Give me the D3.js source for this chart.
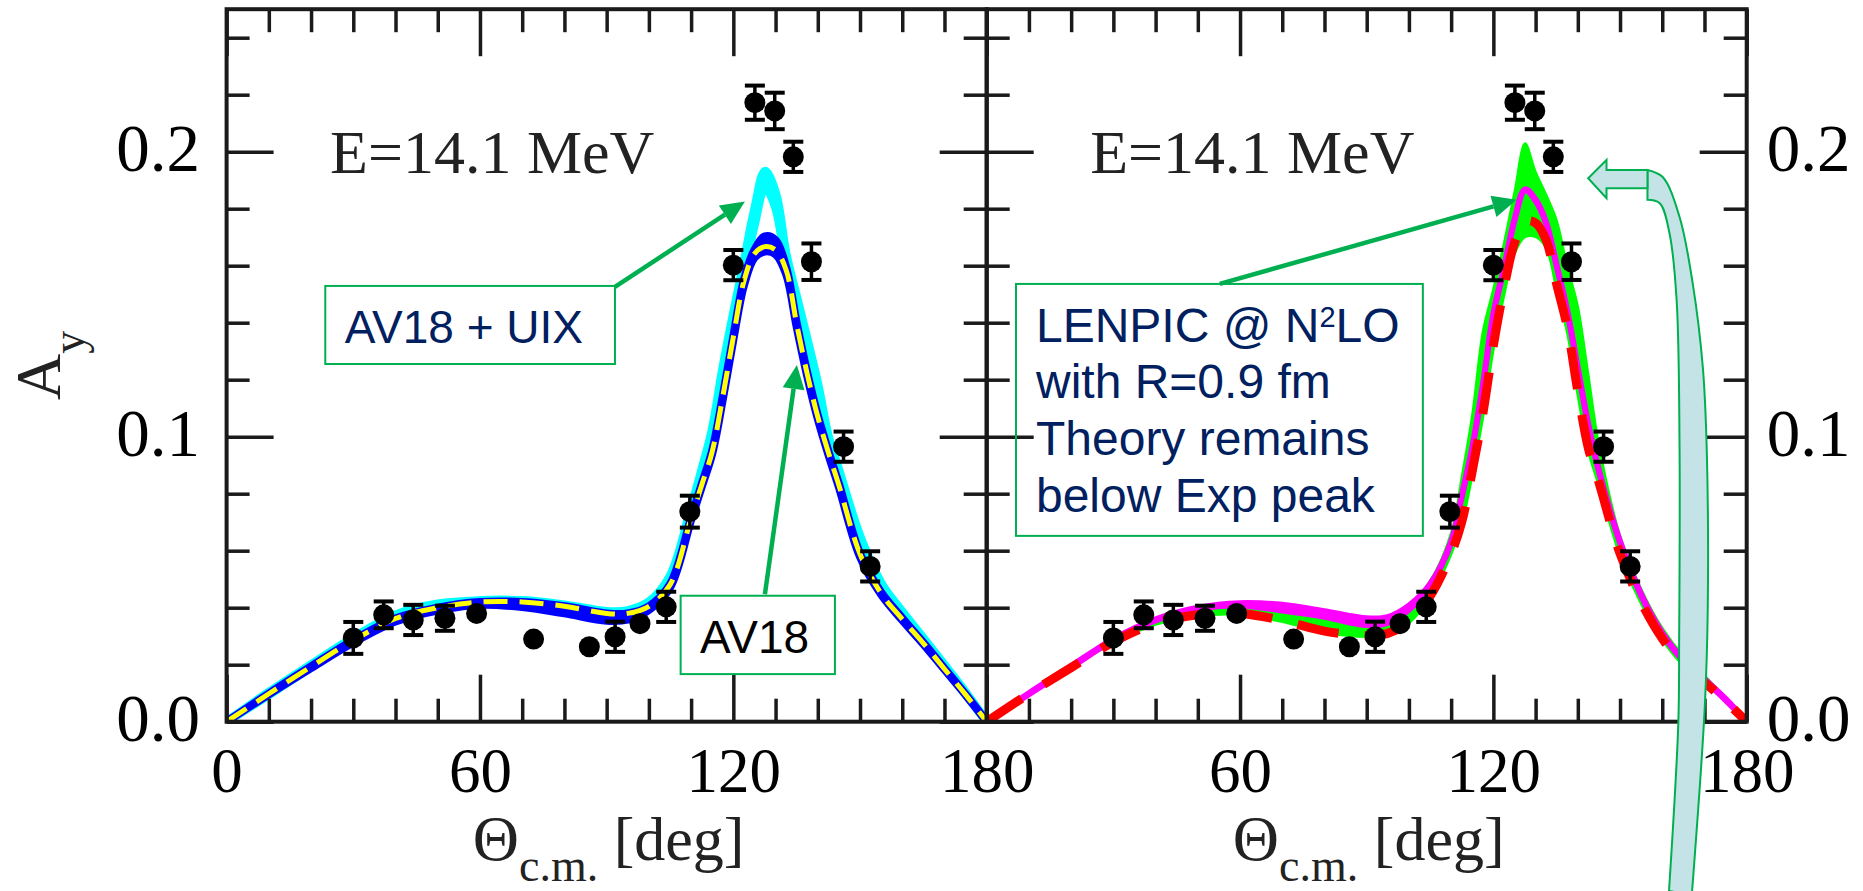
<!DOCTYPE html>
<html lang="en">
<head>
<meta charset="utf-8">
<title>A_y at E = 14.1 MeV</title>
<script src="https://cdn.jsdelivr.net/npm/d3@7/dist/d3.min.js"></script>
<style>
  html, body { margin: 0; padding: 0; background: #ffffff; }
  svg { display: block; }
  text { white-space: pre; }
</style>
</head>
<body>
<svg id="chart" width="1863" height="891"></svg>
<script>
// ---------- theory curves, sampled on a common c.m. angle grid (deg) ----------
const theta = [0, 10, 20, 30, 40, 50, 60, 70, 80, 90, 95, 100, 105, 110, 112.5, 115, 117.5,
  120, 122.5, 125, 127.5, 130, 132.5, 135, 137.5, 140, 142.5, 145, 150, 155, 160, 165, 170, 175, 180];

// AV18 + UIX band (cyan)
const av18uixLo = [0, 0.0095, 0.0192, 0.0286, 0.0365, 0.0403, 0.0415, 0.0415, 0.0400, 0.0377, 0.0380, 0.0410, 0.0490, 0.0730, 0.0858, 0.0995, 0.1200,
  0.1390, 0.1570, 0.1745, 0.1875, 0.1805, 0.1600, 0.1450, 0.1300, 0.1155, 0.0970, 0.0858, 0.0630, 0.0474, 0.0374, 0.0283, 0.0191, 0.0097, 0];
const av18uixHi = [0, 0.0103, 0.0200, 0.0294, 0.0375, 0.0413, 0.0425, 0.0425, 0.0410, 0.0387, 0.0390, 0.0420, 0.0510, 0.0750, 0.0882, 0.1025, 0.1240,
  0.1430, 0.1610, 0.1795, 0.1931, 0.1855, 0.1640, 0.1490, 0.1340, 0.1185, 0.1000, 0.0882, 0.0650, 0.0486, 0.0386, 0.0293, 0.0199, 0.0103, 0];

// AV18 band (blue)
const av18Lo = [0, 0.0096, 0.0188, 0.0278, 0.0352, 0.0390, 0.0410, 0.0402, 0.0380, 0.0354, 0.0358, 0.0392, 0.0470, 0.0708, 0.0823, 0.0940, 0.1130,
  0.1340, 0.1530, 0.1628, 0.1650, 0.1640, 0.1570, 0.1385, 0.1212, 0.1062, 0.0937, 0.0822, 0.0578, 0.0446, 0.0356, 0.0272, 0.0183, 0.0094, 0];
const av18Hi = [0, 0.0099, 0.0194, 0.0286, 0.0362, 0.0400, 0.0420, 0.0420, 0.0405, 0.0380, 0.0380, 0.0405, 0.0482, 0.0716, 0.0833, 0.0952, 0.1142,
  0.1352, 0.1550, 0.1655, 0.1703, 0.1690, 0.1595, 0.1400, 0.1225, 0.1075, 0.0950, 0.0835, 0.0590, 0.0454, 0.0364, 0.0278, 0.0187, 0.0096, 0];

// AV18 (yellow dashed)
const av18Line = [0, 0.0098, 0.0193, 0.0285, 0.0362, 0.0400, 0.0420, 0.0420, 0.0405, 0.0380, 0.0380, 0.0405, 0.0480, 0.0715, 0.0830, 0.0948, 0.1140,
  0.1350, 0.1545, 0.1642, 0.1667, 0.1655, 0.1585, 0.1395, 0.1220, 0.1070, 0.0945, 0.0830, 0.0588, 0.0450, 0.0360, 0.0275, 0.0185, 0.0095, 0];

// LENPIC N2LO truncation band (green)
const lenpicBandLo = [0, 0.0096, 0.0188, 0.0276, 0.0340, 0.0370, 0.0375, 0.0350, 0.0313, 0.0297, 0.0305, 0.0345, 0.0435, 0.0585, 0.0690, 0.0860, 0.1060,
  0.1300, 0.1490, 0.1640, 0.1700, 0.1700, 0.1660, 0.1510, 0.1360, 0.1140, 0.0945, 0.0825, 0.0580, 0.0412, 0.0286, 0.0195, 0.0134, 0.0070, 0];
const lenpicBandHi = [0, 0.0100, 0.0196, 0.0292, 0.0362, 0.0404, 0.0420, 0.0412, 0.0390, 0.0365, 0.0370, 0.0410, 0.0495, 0.0665, 0.0860, 0.1080, 0.1370,
  0.1520, 0.1680, 0.1860, 0.2030, 0.1930, 0.1850, 0.1760, 0.1600, 0.1460, 0.1220, 0.0975, 0.0655, 0.0468, 0.0330, 0.0232, 0.0162, 0.0086, 0];

// LENPIC N2LO, R = 0.9 fm (magenta)
const n2loLo = [0, 0.0096, 0.0191, 0.0286, 0.0355, 0.0396, 0.0408, 0.0390, 0.0368, 0.0339, 0.0347, 0.0393, 0.0478, 0.0628, 0.0788, 0.0958, 0.1178,
  0.1428, 0.1588, 0.1758, 0.1864, 0.1828, 0.1748, 0.1598, 0.1438, 0.1238, 0.1038, 0.0878, 0.0628, 0.0443, 0.0308, 0.0213, 0.0146, 0.0076, 0];
const n2loHi = [0, 0.0100, 0.0195, 0.0290, 0.0359, 0.0400, 0.0416, 0.0410, 0.0388, 0.0363, 0.0367, 0.0407, 0.0482, 0.0632, 0.0792, 0.0962, 0.1182,
  0.1432, 0.1592, 0.1762, 0.1868, 0.1832, 0.1752, 0.1602, 0.1442, 0.1242, 0.1042, 0.0882, 0.0632, 0.0447, 0.0312, 0.0217, 0.0150, 0.0080, 0];

// second LENPIC curve (red dashed)
const lenpicDashed = [0, 0.0098, 0.0190, 0.0280, 0.0345, 0.0375, 0.0380, 0.0355, 0.0318, 0.0302, 0.0310, 0.0350, 0.0440, 0.0590, 0.0700, 0.0880, 0.1080,
  0.1320, 0.1520, 0.1680, 0.1755, 0.1750, 0.1690, 0.1535, 0.1385, 0.1160, 0.0960, 0.0840, 0.0590, 0.0420, 0.0292, 0.0200, 0.0138, 0.0072, 0];

// ---------- nd elastic data, E = 14.1 MeV ----------
const expTheta = [30.0, 37.2, 44.2, 51.7, 59.2, 72.7, 85.9, 92.0, 97.9, 104.1, 109.7, 120.0, 125.1, 129.8, 134.2, 138.5, 146.1, 152.4];
const expAy    = [0.0294, 0.0375, 0.0357, 0.0363, 0.0380, 0.0290, 0.0263, 0.0298, 0.0344, 0.0403, 0.0737, 0.1602, 0.2172, 0.2143, 0.1982, 0.1614, 0.0965, 0.0545];
const expErr   = [0.0056, 0.0047, 0.0053, 0.0044, 0.0030, 0.0020, 0.0020, 0.0053, 0.0030, 0.0053, 0.0056, 0.0053, 0.0060, 0.0064, 0.0053, 0.0064, 0.0053, 0.0053];

// ---------- ticks ----------
const xMajorTicks = [0, 60, 120, 180];
const xMinorTicks = [10, 20, 30, 40, 50, 70, 80, 90, 100, 110, 130, 140, 150, 160, 170];
const yMajorTicks = [0, 0.1, 0.2];
const yMinorTicks = [0.02, 0.04, 0.06, 0.08, 0.12, 0.14, 0.16, 0.18, 0.22, 0.24];

const energyLabel = "E=14.1 MeV";
const lenpicLines = ["LENPIC @ N", "with R=0.9 fm", "Theory remains", "below Exp peak"];

// ---------- scales ----------
const svg = d3.select("#chart");
const y  = d3.scaleLinear().domain([0, 0.25]).range([721.7, 9.2]);
const xL = d3.scaleLinear().domain([0, 180]).range([226.6, 986.7]);
const xR = d3.scaleLinear().domain([0, 180]).range([986.7, 1746.7]);

const INK = "#1a1a1a";
const CALLOUT = "#00b050";
const NAVY = "#002060";
const SERIF = "'Liberation Serif', 'Times New Roman', serif";
const SANS = "'Liberation Sans', Arial, sans-serif";
const DOT_R = 10.5;

const defs = svg.append("defs");
[["clipL", xL], ["clipR", xR]].forEach(([id, x]) => {
  defs.append("clipPath").attr("id", id).append("rect")
    .attr("x", x(0)).attr("y", y(0.25))
    .attr("width", x(180) - x(0)).attr("height", y(0) - y(0.25));
});

const bandPath = (x, lo, hi) => d3.area().curve(d3.curveCatmullRom)
  .x(d => x(d)).y0((d, i) => y(lo[i])).y1((d, i) => y(hi[i]))(theta);
const linePath = (x, v) => d3.line().curve(d3.curveCatmullRom)
  .x(d => x(d)).y((d, i) => y(v[i]))(theta);

// ---------- left panel: AV18 and AV18+UIX ----------
const gL = svg.append("g").attr("clip-path", "url(#clipL)");
gL.append("path").attr("d", bandPath(xL, av18uixLo, av18uixHi))
  .attr("fill", "#00ffff").attr("stroke", "#00ffff").attr("stroke-width", 9);
gL.append("path").attr("d", bandPath(xL, av18Lo, av18Hi))
  .attr("fill", "#0000ff").attr("stroke", "#0000ff").attr("stroke-width", 8);
gL.append("path").attr("d", linePath(xL, av18Line))
  .attr("fill", "none").attr("stroke", "#ffff00").attr("stroke-width", 5)
  .attr("stroke-dasharray", "24,12");

// ---------- right panel: LENPIC ----------
const gR = svg.append("g").attr("clip-path", "url(#clipR)");
gR.append("path").attr("d", bandPath(xR, lenpicBandLo, lenpicBandHi))
  .attr("fill", "#00ff00").attr("stroke", "#00ff00").attr("stroke-width", 2);
gR.append("path").attr("d", bandPath(xR, n2loLo, n2loHi))
  .attr("fill", "#ff00ff").attr("stroke", "#ff00ff").attr("stroke-width", 6);
gR.append("path").attr("d", linePath(xR, lenpicDashed))
  .attr("fill", "none").attr("stroke", "#ff0000").attr("stroke-width", 9)
  .attr("stroke-dasharray", "42,26");

// ---------- frames and ticks ----------
function drawAxes(x, leftLabels, rightLabels, showXLabel) {
  const g = svg.append("g");
  const fmtY = d3.format(".1f");
  const bottom = g.append("g").attr("transform", `translate(0,${y(0)})`);
  bottom.append("g").call(d3.axisBottom(x).tickValues(xMinorTicks).tickSize(-23).tickSizeOuter(0).tickFormat(""));
  const bLab = bottom.append("g").call(d3.axisBottom(x).tickValues(xMajorTicks).tickSize(-47).tickSizeOuter(0)
    .tickFormat(d => showXLabel(d) ? String(d) : ""));
  bLab.selectAll("text").attr("y", 70).attr("dy", null)
    .attr("font-family", SERIF).attr("font-size", 63).attr("fill", "#000");

  const top = g.append("g").attr("transform", `translate(0,${y(0.25)})`);
  top.append("g").call(d3.axisTop(x).tickValues(xMinorTicks).tickSize(-23).tickSizeOuter(0).tickFormat(""));
  top.append("g").call(d3.axisTop(x).tickValues(xMajorTicks).tickSize(-47).tickSizeOuter(0).tickFormat(""));

  const left = g.append("g").attr("transform", `translate(${x(0)},0)`);
  left.append("g").call(d3.axisLeft(y).tickValues(yMinorTicks).tickSize(-23).tickSizeOuter(0).tickFormat(""));
  const lLab = left.append("g").call(d3.axisLeft(y).tickValues(yMajorTicks).tickSize(-47).tickSizeOuter(0)
    .tickPadding(26.6).tickFormat(leftLabels ? fmtY : ""));
  lLab.selectAll("text").attr("dy", 18.3)
    .attr("font-family", SERIF).attr("font-size", 67).attr("fill", "#000");

  const right = g.append("g").attr("transform", `translate(${x(180)},0)`);
  right.append("g").call(d3.axisRight(y).tickValues(yMinorTicks).tickSize(-23).tickSizeOuter(0).tickFormat(""));
  const rLab = right.append("g").call(d3.axisRight(y).tickValues(yMajorTicks).tickSize(-47).tickSizeOuter(0)
    .tickPadding(20).tickFormat(rightLabels ? fmtY : ""));
  rLab.selectAll("text").attr("dy", 18.3)
    .attr("font-family", SERIF).attr("font-size", 67).attr("fill", "#000");

  g.selectAll(".domain").remove();
  g.selectAll(".tick line").attr("stroke", INK).attr("stroke-width", 3.5);

  g.append("rect").attr("x", x(0)).attr("y", y(0.25))
    .attr("width", x(180) - x(0)).attr("height", y(0) - y(0.25))
    .attr("fill", "none").attr("stroke", INK).attr("stroke-width", 4);
}
drawAxes(xL, true, false, () => true);
drawAxes(xR, false, true, d => d !== 0);

// ---------- experimental points ----------
const points = expTheta.map((t, i) => ({ t, v: expAy[i], e: expErr[i] }));
[xL, xR].forEach(x => {
  const g = svg.append("g");
  // bars shorter than the dot stay hidden behind it
  const withBars = points.filter(d => y(d.v - d.e) - y(d.v) > DOT_R);
  const bars = g.selectAll("g.bar").data(withBars).join("g").attr("class", "bar");
  bars.append("line")
    .attr("x1", d => x(d.t)).attr("x2", d => x(d.t))
    .attr("y1", d => y(d.v - d.e)).attr("y2", d => y(d.v + d.e))
    .attr("stroke", "#000").attr("stroke-width", 3.5);
  [-1, 1].forEach(s => {
    bars.append("line")
      .attr("x1", d => x(d.t) - 10).attr("x2", d => x(d.t) + 10)
      .attr("y1", d => y(d.v + s * d.e)).attr("y2", d => y(d.v + s * d.e))
      .attr("stroke", "#000").attr("stroke-width", 4);
  });
  g.selectAll("circle").data(points).join("circle")
    .attr("cx", d => x(d.t)).attr("cy", d => y(d.v)).attr("r", DOT_R).attr("fill", "#000");
});

// ---------- panel labels and axis titles ----------
[xL, xR].forEach(x => {
  svg.append("text").attr("x", x(24.5)).attr("y", y(0.1925))
    .attr("font-family", SERIF).attr("font-size", 62)
    .attr("fill", "#222").text(energyLabel);

  const t = svg.append("text").attr("x", (x(0) + x(180)) / 2 + 2).attr("y", 860)
    .attr("text-anchor", "middle").attr("fill", "#222").attr("font-family", SERIF);
  t.append("tspan").attr("font-size", 64).text("\u0398");
  t.append("tspan").attr("font-size", 46).attr("dy", 21).text("c.m.");
  t.append("tspan").attr("font-size", 62).attr("dy", -21).text(" [deg]");
});

const ay = svg.append("text").attr("transform", `translate(60,${(y(0) + y(0.25)) / 2}) rotate(-90)`)
  .attr("text-anchor", "middle").attr("fill", "#222").attr("font-family", SERIF);
ay.append("tspan").attr("font-size", 64).text("A");
ay.append("tspan").attr("font-size", 46).attr("dy", 24).text("y");

// ---------- callouts ----------
function calloutBox(x, t0, t1, v0, v1) {
  svg.append("rect").attr("x", x(t0)).attr("y", y(v0))
    .attr("width", x(t1) - x(t0)).attr("height", y(v1) - y(v0))
    .attr("fill", "none").attr("stroke", CALLOUT).attr("stroke-width", 2);
}
function calloutArrow(x, t0, v0, t1, v1) {
  const x1 = x(t0), y1 = y(v0), x2 = x(t1), y2 = y(v1);
  const a = Math.atan2(y2 - y1, x2 - x1), L = 24, hw = 11;
  const bx = x2 - L * Math.cos(a), by = y2 - L * Math.sin(a);
  svg.append("line").attr("x1", x1).attr("y1", y1).attr("x2", bx).attr("y2", by)
    .attr("stroke", CALLOUT).attr("stroke-width", 4.5);
  svg.append("path").attr("fill", CALLOUT)
    .attr("d", `M${x2},${y2}L${bx + hw * Math.sin(a)},${by - hw * Math.cos(a)}L${bx - hw * Math.sin(a)},${by + hw * Math.cos(a)}Z`);
}

calloutBox(xL, 23.37, 91.97, 0.1529, 0.1255);
svg.append("text").attr("x", xL(28.0)).attr("y", y(0.1329))
  .attr("font-family", SANS).attr("font-size", 46)
  .attr("fill", NAVY).text("AV18 + UIX");
calloutArrow(xL, 91.97, 0.1526, 122.75, 0.1825);

calloutBox(xL, 107.52, 144.06, 0.0442, 0.0167);
svg.append("text").attr("x", xL(112.1)).attr("y", y(0.0240))
  .attr("font-family", SANS).attr("font-size", 46)
  .attr("fill", "#000").text("AV18");
calloutArrow(xL, 127.48, 0.0447, 135.06, 0.1252);

calloutBox(xR, 6.94, 103.3, 0.1536, 0.0652);
const lenpicText = svg.append("g")
  .attr("font-family", SANS).attr("font-size", 48).attr("fill", NAVY);
lenpicLines.forEach((s, i) => {
  const t = lenpicText.append("text").attr("x", xR(11.67)).attr("y", y(0.13333) + i * 56.7);
  t.append("tspan").text(s);
  if (i === 0) {
    t.append("tspan").attr("font-size", 29).attr("dy", -15).text("2");
    t.append("tspan").attr("dy", 15).text("LO");
  }
});
calloutArrow(xR, 55.2, 0.1536, 125.5, 0.1831);

// curved block arrow pointing at the LENPIC peak
const bendOuter = [[167.0, -0.0608], [170.07, 0.0052], [170.78, 0.0402], [170.54, 0.0953], [169.6, 0.1245],
  [167.2, 0.1539], [164.1, 0.1771], [160.1, 0.1911], [156.5, 0.1936]];
const bendInner = [[156.5, 0.1831], [159.4, 0.1819], [161.7, 0.1715], [163.4, 0.1480], [164.1, 0.0953],
  [164.0, 0.0287], [163.8, -0.0006], [161.6, -0.0594]];
const bendHead = [[156.5, 0.1936], [146.8, 0.1936], [146.8, 0.1971], [142.45, 0.1907], [146.8, 0.1837],
  [146.8, 0.1872], [156.5, 0.1872]];
const smooth = d3.line().x(d => xR(d[0])).y(d => y(d[1])).curve(d3.curveCatmullRom);
const straight = d3.line().x(d => xR(d[0])).y(d => y(d[1]));
svg.append("path")
  .attr("d", smooth(bendOuter) + smooth(bendInner).replace(/^M/, "L") + "Z")
  .attr("fill", "#c4e3e6").attr("stroke", CALLOUT).attr("stroke-width", 2);
svg.append("path")
  .attr("d", straight(bendHead) + "Z")
  .attr("fill", "#c4e3e6").attr("stroke", CALLOUT).attr("stroke-width", 2)
  .attr("stroke-linejoin", "miter");
</script>
</body>
</html>
